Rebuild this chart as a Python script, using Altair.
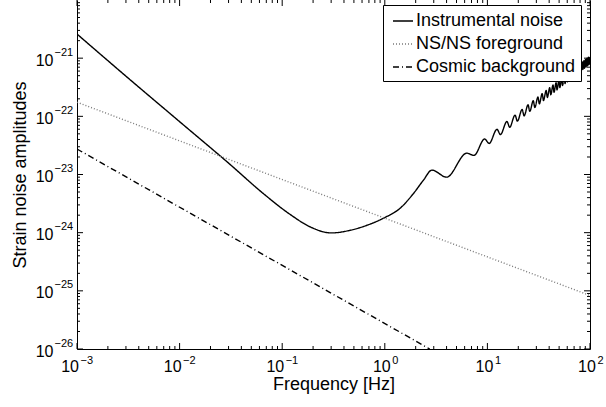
import altair as alt
import pandas as pd

# ---------------- data ----------------
series_names = ["Instrumental noise", "NS/NS foreground", "Cosmic background"]

instr_freq = [1e-3, 3e-3, 1e-2, 0.03, 0.0655, 0.119, 0.187, 0.30, 0.46, 0.67,
              1.0, 1.4, 1.9, 2.37, 2.88, 4.0,
              6.3, 7.4, 9.4, 10.4, 12.4, 13.4, 15.5, 16.5, 18.6, 19.6,
              21.8, 22.8, 24.9, 25.9, 28.0, 29.0, 31.1, 32.1, 34.2, 35.2,
              37.4, 38.4, 40.5, 41.5, 43.6, 44.6, 46.7, 47.7, 49.8, 50.8,
              53.0, 54.0, 56.1, 57.1, 59.2, 60.2, 62.3, 63.3, 65.4, 66.4,
              68.6, 69.6, 71.7, 72.7, 74.8, 75.8, 77.9, 78.9, 81.0, 82.0,
              84.2, 85.2, 87.3, 88.3, 90.4, 91.4, 93.5, 94.5, 96.6, 97.6, 100.0]
instr_strain = [2.6e-21, 4.9e-22, 8.1e-23, 1.57e-23, 4.7e-24, 2.07e-24, 1.26e-24, 9.9e-25, 1.1e-24, 1.34e-24,
                1.82e-24, 2.6e-24, 4.7e-24, 7.9e-24, 1.19e-23, 9.0e-24,
                2.33e-23, 2.13e-23, 4.07e-23, 3.42e-23, 5.98e-23, 4.86e-23, 8.16e-23, 6.50e-23, 1.05e-22, 8.26e-23,
                1.31e-22, 1.02e-22, 1.58e-22, 1.22e-22, 1.86e-22, 1.42e-22, 2.15e-22, 1.64e-22, 2.46e-22, 1.87e-22,
                2.78e-22, 2.11e-22, 3.11e-22, 2.35e-22, 3.45e-22, 2.59e-22, 3.79e-22, 2.85e-22, 4.15e-22, 3.11e-22,
                4.52e-22, 3.39e-22, 4.90e-22, 3.66e-22, 5.28e-22, 3.94e-22, 5.66e-22, 4.22e-22, 6.06e-22, 4.52e-22,
                6.48e-22, 4.82e-22, 6.89e-22, 5.12e-22, 7.31e-22, 5.43e-22, 7.73e-22, 5.74e-22, 8.16e-22, 6.06e-22,
                8.62e-22, 6.39e-22, 9.06e-22, 6.72e-22, 9.51e-22, 7.05e-22, 9.97e-22, 7.38e-22, 1.04e-21, 7.72e-22, 1.05e-21]

nsns_freq = [1e-3, 1e2]
nsns_strain = [1.75e-22, 8.3e-26]

cosmic_freq = [1e-3, 2.74]
cosmic_strain = [2.74e-23, 1e-26]

x_major = [1e-3, 1e-2, 1e-1, 1e0, 1e1, 1e2]
x_exponents = ["−3", "−2", "−1", "0", "1", "2"]
y_major = [1e-26, 1e-25, 1e-24, 1e-23, 1e-22, 1e-21]
y_exponents = ["−26", "−25", "−24", "−23", "−22", "−21"]

x_minor = [k * 10.0 ** e for e in range(-3, 2) for k in range(2, 10)]
y_minor = [k * 10.0 ** e for e in range(-26, -20) for k in range(2, 10)]

rows = []
for name, fs, hs in [(series_names[0], instr_freq, instr_strain),
                     (series_names[1], nsns_freq, nsns_strain),
                     (series_names[2], cosmic_freq, cosmic_strain)]:
    assert len(fs) == len(hs)
    for f, h in zip(fs, hs):
        rows.append({"series": name, "f": f, "h": h})
df = pd.DataFrame(rows)

# ---------------- layout ----------------
W, H = 513, 349
FONT = "Liberation Sans"
TICK_FS = 16
EXP_FS = 11
MAJ, MIN = 6, 3
xs = alt.Scale(type="log", domain=[1e-3, 1e2], nice=False)
ys = alt.Scale(type="log", domain=[1e-26, 1e-20], nice=False)

x_neg = [v for v, e in zip(x_major, x_exponents) if e.startswith("−")]
x_pos = [v for v, e in zip(x_major, x_exponents) if not e.startswith("−")]

x_exp_expr = "[" + ",".join("'%s'" % s for s in x_exponents) + "][round(log(datum.value)/LN10)+3]"
y_exp_expr = "[" + ",".join("'%s'" % s for s in y_exponents) + "][round(log(datum.value)/LN10)+26]"

base = alt.Chart(df)

legend = alt.Legend(orient="none", legendX=306, legendY=5, title=None,
                    fillColor="white", strokeColor="black", padding=5, cornerRadius=0,
                    labelFont=FONT, labelFontSize=18, labelColor="black", labelLimit=400,
                    symbolType="M-1,0L1,0", symbolSize=400, symbolStrokeWidth=1.4,
                    rowPadding=3, labelOffset=2, symbolOffset=4)

def label_axis(orient, values, expr, fs, padding, offset, align, **kw):
    return alt.Axis(orient=orient, values=values, labelExpr=expr, ticks=False, domain=False,
                    labelFont=FONT, labelFontSize=fs, labelColor="black", labelPadding=padding,
                    labelBaseline="middle", labelAlign=align, labelOffset=offset,
                    labelFlush=False, labelOverlap=False, grid=False, **kw)

x_main_axis = label_axis("bottom", x_neg, "'10'", TICK_FS, 17, -7.4, "center",
                         title="Frequency [Hz]", titleFont=FONT, titleFontSize=18,
                         titleFontWeight="normal", titleColor="black", titleY=35,
                         titleBaseline="middle")
y_main_axis = label_axis("left", y_major, "'10'", TICK_FS, 24, 2, "right",
                         title="Strain noise amplitudes", titleFont=FONT, titleFontSize=18,
                         titleFontWeight="normal", titleColor="black", titleX=-57, titleY=H / 2,
                         titleAngle=270, titleAlign="center", titleBaseline="middle")

lines = base.mark_line(strokeWidth=1.4, clip=True, interpolate="monotone").encode(
    x=alt.X("f:Q", scale=xs, axis=x_main_axis),
    y=alt.Y("h:Q", scale=ys, axis=y_main_axis),
    color=alt.Color("series:N", scale=alt.Scale(domain=series_names, range=["black", "#7a7a7a", "black"]),
                    legend=legend),
    strokeDash=alt.StrokeDash("series:N", scale=alt.Scale(domain=series_names,
                              range=[[1, 0], [1, 2], [6, 3, 1, 3]]), legend=legend),
)

def ghost(xaxis, yaxis):
    return base.mark_point(opacity=0).encode(
        x=alt.X("f:Q", scale=xs, axis=xaxis),
        y=alt.Y("h:Q", scale=ys, axis=yaxis),
    )

labels_pos = ghost(label_axis("bottom", x_pos, "'10'", TICK_FS, 17, -3.5, "center", title=None), None)
exp_neg = ghost(label_axis("bottom", x_neg, x_exp_expr, EXP_FS, 11, 3, "left", title=None),
                label_axis("left", y_major, y_exp_expr, EXP_FS, 23, -6, "left", title=None))
exp_pos = ghost(label_axis("bottom", x_pos, x_exp_expr, EXP_FS, 11, 7, "left", title=None), None)

def border(orient, offset=0):
    return alt.Axis(orient=orient, offset=offset, values=[], labels=False, ticks=False, domain=True,
                    domainColor="black", domainWidth=1, grid=False, title=None)

frame = ghost(border("bottom"), border("left"))
frame_right = ghost(None, border("left", -W))

# inward tick marks on all four edges, placed through the scales
xt = pd.DataFrame({"v": x_major + x_minor, "len": [MAJ] * len(x_major) + [MIN] * len(x_minor)})
yt = pd.DataFrame({"v": y_major + y_minor, "len": [MAJ] * len(y_major) + [MIN] * len(y_minor)})

def xticks(y0, sign):
    return alt.Chart(xt).transform_calculate(
        y1=f"{y0} + {sign} * datum.len", y0=f"{y0}"
    ).mark_rule(color="black", strokeWidth=1).encode(
        x=alt.X("v:Q", scale=xs, axis=None),
        y=alt.Y("y0:Q", scale=None, axis=None),
        y2="y1:Q",
    )

def yticks(x0, sign):
    return alt.Chart(yt).transform_calculate(
        x1=f"{x0} + {sign} * datum.len", x0=f"{x0}"
    ).mark_rule(color="black", strokeWidth=1).encode(
        y=alt.Y("v:Q", scale=ys, axis=None),
        x=alt.X("x0:Q", scale=None, axis=None),
        x2="x1:Q",
    )

tick_layers = [xticks(H, -1), xticks(0, 1), yticks(0, 1), yticks(W, -1)]

chart = alt.layer(
    lines, labels_pos, exp_neg, exp_pos, frame, frame_right, *tick_layers
).resolve_axis(x="independent", y="independent").resolve_scale(x="independent", y="independent").properties(
    width=W, height=H,
    autosize=alt.AutoSizeParams(type="none"),
    padding={"left": 77, "top": 0, "right": 16, "bottom": 58},
    background="white",
).configure_view(stroke=None)

chart.save("out.html", embed_options={"renderer": "svg", "actions": False})
